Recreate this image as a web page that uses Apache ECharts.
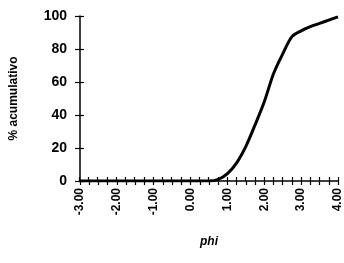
<!DOCTYPE html>
<html>
<head>
<meta charset="utf-8">
<script src="https://cdn.jsdelivr.net/npm/echarts@6/dist/echarts.min.js"></script>
<style>
  html, body { margin: 0; padding: 0; background: #fff; }
  #chart { width: 344px; height: 263px; }
</style>
</head>
<body>
<div id="chart"></div>
<script>
// phi en pasos de 0.25
var phi = [-3, -2.75, -2.5, -2.25, -2, -1.75, -1.5, -1.25, -1, -0.75, -0.5, -0.25,
  0, 0.25, 0.5, 0.75, 1, 1.25, 1.5, 1.75, 2, 2.25, 2.5, 2.75, 3, 3.25, 3.5, 3.75, 4];
var acumulado = [0, 0, 0, 0, 0, 0, 0, 0, 0, 0, 0, 0,
  0, 0, 0, 1, 4.5, 11, 21, 34, 48, 65, 77, 87.5, 91, 93.5, 95.5, 97.5, 99.5];

var font = "Liberation Sans";
var chart = echarts.init(document.getElementById("chart"));
var box = { left: 79, right: 6, top: 16, bottom: 82 };

// dos grids iguales: el segundo solo pone las marcas hacia dentro
function xAxisDef(idx, inside) {
  return {
    gridIndex: idx,
    type: "value",
    min: -3,
    max: 4,
    interval: 1,
    splitLine: { show: false },
    axisLine: { show: !inside, onZero: false, lineStyle: { color: "#000", width: 1.5 } },
    axisTick: { show: true, inside: inside, length: 4, lineStyle: { color: "#000", width: 1.2 } },
    minorTick: { show: true, splitNumber: 4, length: 4, lineStyle: { color: "#000", width: 1.2 } },
    name: inside ? "" : "phi",
    nameLocation: "middle",
    nameGap: 55,
    nameTextStyle: { fontFamily: font, fontWeight: "bold", fontStyle: "italic", fontSize: 12, color: "#000" },
    axisLabel: {
      show: !inside,
      rotate: 90,
      margin: 7,
      fontFamily: font,
      fontWeight: "bold",
      fontSize: 12,
      color: "#000",
      formatter: function (v) { return v.toFixed(2); },
    },
  };
}

function yAxisDef(idx, inside) {
  return {
    gridIndex: idx,
    type: "value",
    min: 0,
    max: 100,
    interval: 20,
    splitLine: { show: false },
    axisLine: { show: !inside, onZero: false, lineStyle: { color: "#000", width: 1.5 } },
    axisTick: { show: true, inside: inside, length: 5, lineStyle: { color: "#000", width: 1.2 } },
    name: inside ? "" : "% acumulativo",
    nameLocation: "middle",
    nameGap: 60,
    nameTextStyle: { fontFamily: font, fontWeight: "bold", fontSize: 12, color: "#000" },
    axisLabel: {
      show: !inside,
      margin: 13,
      fontFamily: font,
      fontWeight: "bold",
      fontSize: 14,
      color: "#000",
    },
  };
}

chart.setOption({
  animation: false,
  grid: [Object.assign({}, box), Object.assign({}, box)],
  xAxis: [xAxisDef(0, false), xAxisDef(1, true)],
  yAxis: [yAxisDef(0, false), yAxisDef(1, true)],
  series: [
    {
      type: "line",
      xAxisIndex: 0,
      yAxisIndex: 0,
      data: phi.map(function (p, i) { return [p, acumulado[i]]; }),
      smooth: 0.3,
      showSymbol: false,
      lineStyle: { color: "#000", width: 3 },
    },
  ],
});
</script>
</body>
</html>
